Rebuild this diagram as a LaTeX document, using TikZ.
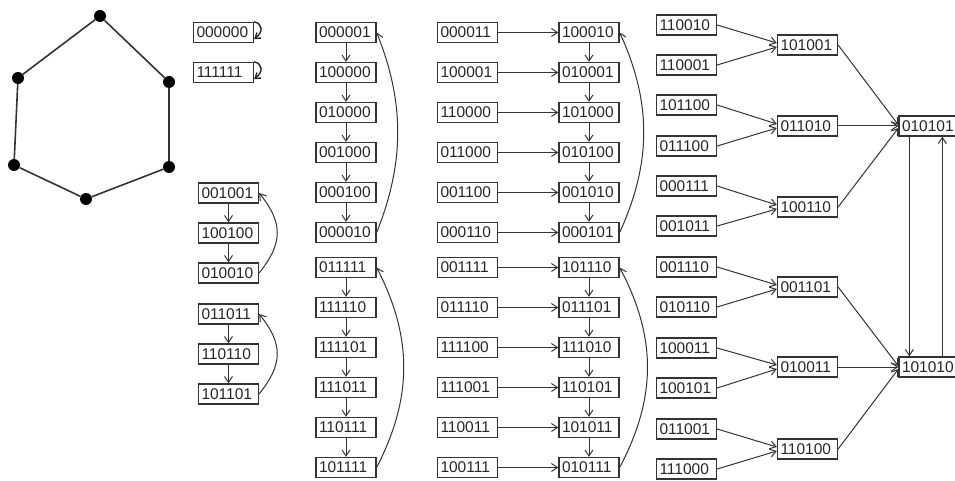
\documentclass[tikz,border=0pt]{standalone}
\usepackage{fontspec}
\setmainfont{Liberation Sans}
\usetikzlibrary{arrows.meta}
\begin{document}
\begin{tikzpicture}[x=1pt,y=-1pt,
  box/.style={draw=black!80, line width=1.3pt, fill=white, text width=54pt, align=left,
    inner xsep=3pt, inner ysep=0pt, minimum height=20pt,
    font=\fontsize{15.5}{16}\selectfont, text=black!85},
  arr/.style={-{Straight Barb[length=6pt,width=8pt]}, line width=1pt, draw=black!80},
  loopy/.style={-{Straight Barb[length=5pt,width=7pt]}, line width=1.4pt, draw=black!85},
  dot/.style={circle, fill=black, inner sep=0pt, minimum size=12pt},
  edge/.style={line width=1.6pt, draw=black!80}]
\useasboundingbox (0,0) rectangle (955,481);
% hexagon
\node[dot] (h1) at (100,16) {};
\node[dot] (h2) at (169,82) {};
\node[dot] (h3) at (169,167) {};
\node[dot] (h4) at (86,199) {};
\node[dot] (h5) at (14,165) {};
\node[dot] (h6) at (18,78) {};
\draw[edge] (h1) -- (h2) -- (h3) -- (h4) -- (h5) -- (h6) -- (h1);
% column 0
\node[box] (n000000) at (223.5,32.5) {000000};
\node[box] (n111111) at (223.5,72.5) {111111};
\foreach \n in {000000,111111}
  \draw[loopy] (n\n.north east) .. controls +(9,2) and +(9,-7) .. ([yshift=4pt]n\n.south east);
% column 1
\foreach \t/\y in {001001/193,100100/233,010010/273,011011/314,110110/354,101101/394}
  \node[box] (n\t) at (228.5,\y) {\t};
% column 2
\foreach \t [count=\i from 0] in {000001,100000,010000,001000,000100,000010}
  \node[box] (n\t) at (346,32.5+40*\i) {\t};
\foreach \t [count=\i from 0] in {011111,111110,111101,111011,110111,101111}
  \node[box] (n\t) at (346,267.5+40*\i) {\t};
% column 3
\foreach \a/\b [count=\i from 0] in {000011/100010,100001/010001,110000/101000,011000/010100,001100/001010,000110/000101}{
  \node[box] (n\a) at (467.5,32.5+40*\i) {\a};
  \node[box] (n\b) at (589,32.5+40*\i) {\b};
  \draw[arr] (n\a) -- (n\b);}
\foreach \a/\b [count=\i from 0] in {001111/101110,011110/011101,111100/111010,111001/110101,110011/101011,100111/010111}{
  \node[box] (n\a) at (467.5,267.5+40*\i) {\a};
  \node[box] (n\b) at (589,267.5+40*\i) {\b};
  \draw[arr] (n\a) -- (n\b);}
% column 4
\foreach \t/\y in {110010/25,110001/65,101100/105,011100/146,000111/186,001011/226,001110/267,010110/307,100011/348,100101/388,011001/429,111000/469}
  \node[box] (n\t) at (686.5,\y) {\t};
% column 5
\foreach \t/\y in {101001/45,011010/126,100110/207,001101/287,010011/367,110100/449}
  \node[box] (n\t) at (807.5,\y) {\t};
% column 6
\node[box] (n010101) at (929,126) {010101};
\node[box] (n101010) at (929,367) {101010};
% chains
\foreach \a/\b in {001001/100100,100100/010010,011011/110110,110110/101101,
  000001/100000,100000/010000,010000/001000,001000/000100,000100/000010,
  011111/111110,111110/111101,111101/111011,111011/110111,110111/101111,
  100010/010001,010001/101000,101000/010100,010100/001010,001010/000101,
  101110/011101,011101/111010,111010/110101,110101/101011,101011/010111}
  \draw[arr] (n\a) -- (n\b);
% back curves
\draw[arr] (n010010.east) .. controls +(24,-30) and +(24,30) .. (n001001.east);
\draw[arr] (n101101.east) .. controls +(24,-30) and +(24,30) .. (n011011.east);
\draw[arr] (n000010.east) .. controls +(28,-70) and +(28,70) .. (n000001.east);
\draw[arr] (n101111.east) .. controls +(36,-70) and +(36,70) .. (n011111.east);
\draw[arr] (n000101.east) .. controls +(32,-70) and +(32,70) .. (n100010.east);
\draw[arr] (n010111.east) .. controls +(37,-70) and +(37,70) .. (n101110.east);
% column 4 -> 5
\foreach \a/\b/\s in {110010/101001/2,110001/101001/-2,101100/011010/2,011100/011010/-2,
  000111/100110/2,001011/100110/-2,001110/001101/2,010110/001101/-2,
  100011/010011/2,100101/010011/-2,011001/110100/2,111000/110100/-2}
  \draw[arr] (n\a.east) -- ([yshift=\s pt]n\b.west);
% column 5 -> 6
\foreach \a/\b/\s in {101001/010101/1,011010/010101/0,100110/010101/-2,
  001101/101010/1,010011/101010/0,110100/101010/-2}
  \draw[arr] (n\a.east) -- ([yshift=\s pt]n\b.west);
% between column 6
\draw[arr] ([xshift=11pt]n010101.south west) -- ([xshift=11pt]n101010.north west);
\draw[arr] ([xshift=44pt]n101010.north west) -- ([xshift=44pt]n010101.south west);
\end{tikzpicture}
\end{document}
